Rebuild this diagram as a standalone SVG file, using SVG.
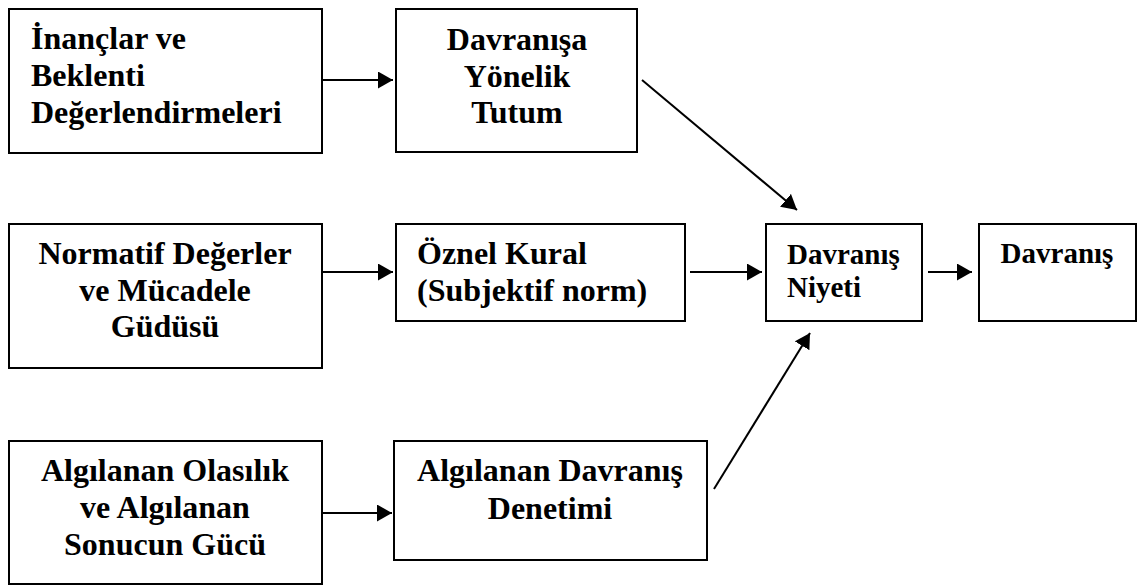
<svg xmlns="http://www.w3.org/2000/svg" width="1146" height="586" viewBox="0 0 1146 586">
<defs>
<marker id="ah" markerUnits="userSpaceOnUse" markerWidth="16" markerHeight="17" refX="15" refY="8.5" orient="auto">
<path d="M0,0 L15,8.5 L0,17 z" fill="#000"/>
</marker>
<style>
.box{fill:#fff;stroke:#000;stroke-width:2}
.t{font-size:32px;fill:#000}
.s{font-size:29px}
.c{text-anchor:middle}
.con line{stroke:#000;stroke-width:2;marker-end:url(#ah)}
</style>
</defs>
<rect width="1146" height="586" fill="#fff"/>
<g font-family="'Liberation Serif', 'Times New Roman', 'DejaVu Serif', serif" font-weight="700">
<g id="n1">
<rect class="box" x="9" y="9" width="313" height="144"/>
<text class="t" x="31" y="49">İnançlar ve</text>
<text class="t" x="31" y="86">Beklenti</text>
<text class="t" x="31" y="123">Değerlendirmeleri</text>
</g>
<g id="n2">
<rect class="box" x="396" y="9" width="241" height="143"/>
<text class="t c" x="517" y="50">Davranışa</text>
<text class="t c" x="517" y="87">Yönelik</text>
<text class="t c" x="517" y="123">Tutum</text>
</g>
<g id="n3">
<rect class="box" x="9" y="224" width="313" height="144"/>
<text class="t c" x="165" y="264">Normatif Değerler</text>
<text class="t c" x="165" y="301">ve Mücadele</text>
<text class="t c" x="165" y="337">Güdüsü</text>
</g>
<g id="n4">
<rect class="box" x="396" y="224" width="289" height="97"/>
<text class="t" x="417" y="264">Öznel Kural</text>
<text class="t" x="417" y="301">(Subjektif norm)</text>
</g>
<g id="n5">
<rect class="box" x="766" y="224" width="156" height="97"/>
<text class="t s" x="787" y="264">Davranış</text>
<text class="t s" x="787" y="297">Niyeti</text>
</g>
<g id="n6">
<rect class="box" x="979" y="224" width="157" height="97"/>
<text class="t s c" x="1057" y="263">Davranış</text>
</g>
<g id="n7">
<rect class="box" x="9" y="441" width="313" height="143"/>
<text class="t c" x="165" y="481">Algılanan Olasılık</text>
<text class="t c" x="165" y="518">ve Algılanan</text>
<text class="t c" x="165" y="555">Sonucun Gücü</text>
</g>
<g id="n8">
<rect class="box" x="394" y="441" width="313" height="119"/>
<text class="t c" x="550" y="481">Algılanan Davranış</text>
<text class="t c" x="550" y="519">Denetimi</text>
</g>
</g>
<g id="connectors" class="con">
<line x1="322" y1="80" x2="393" y2="80"/>
<line x1="642" y1="80" x2="797" y2="210"/>
<line x1="322" y1="272" x2="393" y2="272"/>
<line x1="690" y1="272" x2="762" y2="272"/>
<line x1="928" y1="272" x2="972" y2="272"/>
<line x1="714" y1="489" x2="810" y2="333"/>
<line x1="322" y1="513" x2="392" y2="513"/>
</g>
</svg>
